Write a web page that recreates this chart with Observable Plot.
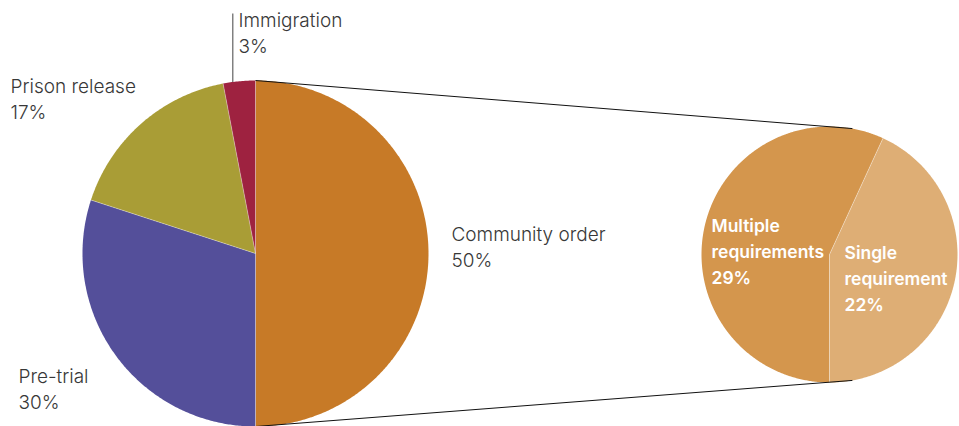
<!DOCTYPE html>
<html><head><meta charset="utf-8">
<script src="https://cdn.jsdelivr.net/npm/d3@7"></script>
<script src="https://cdn.jsdelivr.net/npm/@observablehq/plot@0.6"></script>
<style>body{margin:0;background:#fff} svg{display:block}</style>
</head><body><div id="chart"></div>
<script>
// ---- data ----
const categories = ["Community order", "Pre-trial", "Prison release", "Immigration"];
const shares = [50, 30, 17, 3];
const subCategories = ["Multiple requirements", "Single requirement"];
const subShares = [29, 22];

// ---- styles / layout ----
const colors = ["#C77A27", "#544F9A", "#A99D36", "#9E2240"];
const subColors = ["#D4964D", "#DEAE75"];
const W = 959, H = 426;
const mainG = {cx: 255, cy: 253, r: 173, start: 0};
const subG = {cx: 829, cy: 254, r: 128, start: Math.PI};
const deg = Math.PI / 180;
const labelPos = {
  "Community order": [451, 222.5],
  "Pre-trial": [18, 364],
  "Prison release": [10, 74.5],
  "Immigration": [238, 8.5],
  "Multiple requirements": [711, 213.5],
  "Single requirement": [844, 240.5]
};

function slices(names, values, g) {
  const pie = d3.pie().sort(null).startAngle(g.start).endAngle(g.start + 2 * Math.PI);
  return pie(values).map((a, i) => ({name: names[i], value: values[i], a0: a.startAngle, a1: a.endAngle}));
}
const pt = (g, a, rr = g.r) => [g.cx + rr * Math.sin(a), g.cy - rr * Math.cos(a)];
function polygons(sl, g) {
  const pts = [];
  for (const s of sl) {
    pts.push({name: s.name, x: g.cx, y: g.cy});
    const n = Math.max(2, Math.ceil((s.a1 - s.a0) / (0.5 * deg)));
    for (let k = 0; k <= n; k++) {
      const [x, y] = pt(g, s.a0 + (s.a1 - s.a0) * k / n);
      pts.push({name: s.name, x, y});
    }
  }
  return pts;
}

const mainSl = slices(categories, shares, mainG);
const subSl = slices(subCategories, subShares, subG);
const polys = [...polygons(mainSl, mainG), ...polygons(subSl, subG)];

const seps = [...mainSl.map(s => [mainG, s.a0]), ...subSl.map(s => [subG, s.a0])]
  .map(([g, a]) => { const [x2, y2] = pt(g, a); return {x1: g.cx, y1: g.cy, x2, y2}; });

const connectors = [[0, 10.3 * deg], [Math.PI, 169.7 * deg]].map(([a, b]) => {
  const [x1, y1] = pt(mainG, a); const [x2, y2] = pt(subG, b); return {x1, y1, x2, y2};
});

const imm = mainSl[3];
const [lx, ly] = pt(mainG, imm.a0 + 0.3 * (imm.a1 - imm.a0));
const leader = [{x1: lx, y1: ly, x2: lx, y2: 13}];

const mainLabels = mainSl.map(s => ({name: s.name, text: `${s.name}\n${s.value}%`, x: labelPos[s.name][0], y: labelPos[s.name][1]}));
const subLabels = subSl.map(s => ({name: s.name, text: `${s.name.replace(" ", "\n")}\n${s.value}%`, x: labelPos[s.name][0], y: labelPos[s.name][1]}));

const chart = Plot.plot({
  width: W, height: H, margin: 0,
  x: {domain: [0, W], range: [0, W], axis: null},
  y: {domain: [0, H], range: [0, H], axis: null},
  color: {domain: [...categories, ...subCategories], range: [...colors, ...subColors]},
  style: {fontFamily: "Inter, 'Liberation Sans', sans-serif", background: "#fff"},
  marks: [
    Plot.line(polys, {x: "x", y: "y", z: "name", fill: "name", stroke: null, curve: "linear-closed"}),
    Plot.link(seps, {x1: "x1", y1: "y1", x2: "x2", y2: "y2", stroke: "#fff", strokeOpacity: 0.45, strokeWidth: 0.8}),
    Plot.link(connectors, {x1: "x1", y1: "y1", x2: "x2", y2: "y2", stroke: "#111", strokeWidth: 1}),
    Plot.link(leader, {x1: "x1", y1: "y1", x2: "x2", y2: "y2", stroke: "#808080", strokeWidth: 1.5}),
    Plot.text(mainLabels, {x: "x", y: "y", text: "text", textAnchor: "start", lineAnchor: "top", fontSize: 19, lineHeight: 26 / 19, fill: "#383838", fontWeight: 300}),
    Plot.text(subLabels, {x: "x", y: "y", text: "text", textAnchor: "start", lineAnchor: "top", fontSize: 17.5, lineHeight: 26 / 17.5, fill: "#fff", fontWeight: 600})
  ]
});
document.getElementById("chart").append(chart);
</script>
</body></html>
